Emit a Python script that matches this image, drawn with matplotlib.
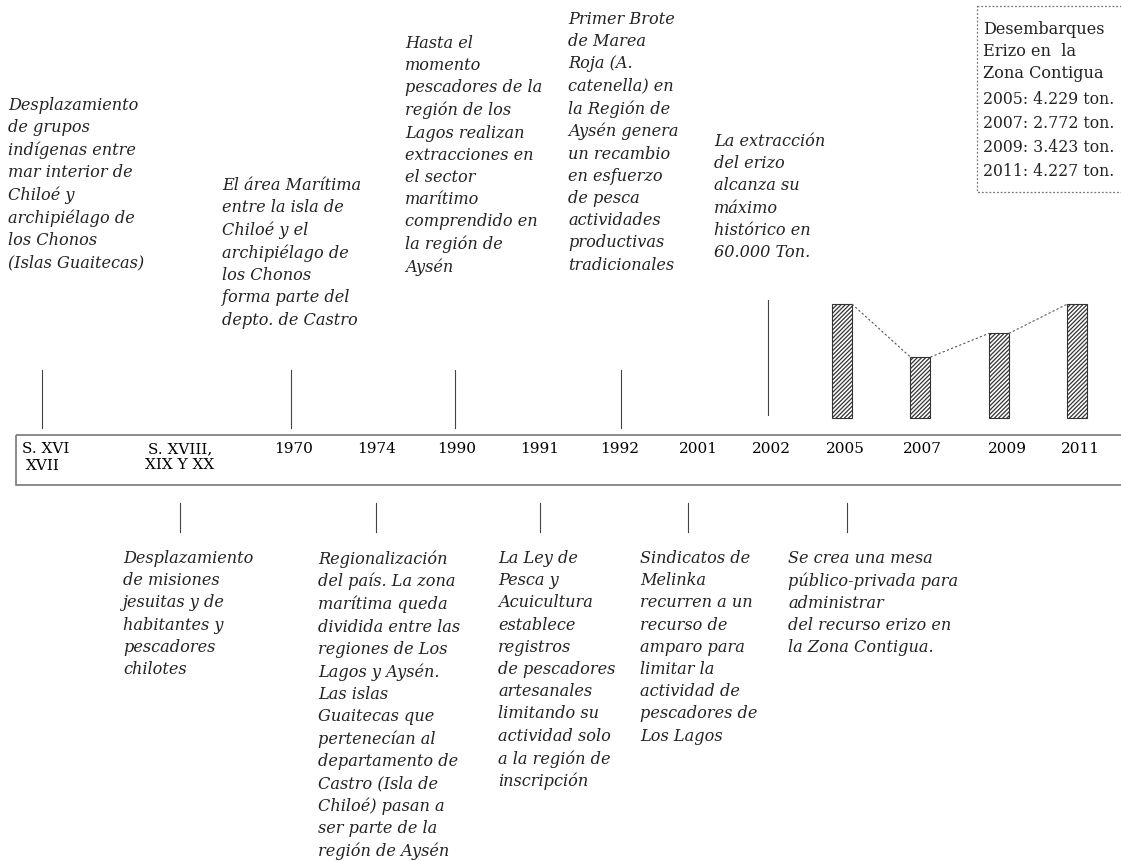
import matplotlib
matplotlib.use("Agg")
import matplotlib.pyplot as plt
from matplotlib.patches import Rectangle

# ---------------- data ----------------
timeline_labels = ["S. XVI\nXVII", "S. XVIII,\nXIX Y XX", "1970", "1974", "1990", "1991",
                   "1992", "2001", "2002", "2005", "2007", "2009", "2011"]
bar_years = [2005, 2007, 2009, 2011]
bar_values = [4229, 2772, 3423, 4227]   # toneladas

events_above = [
    "Desplazamiento\nde grupos\nindígenas entre\nmar interior de\nChiloé y\narchipiélago de\nlos Chonos\n(Islas Guaitecas)",
    "El área Marítima\nentre la isla de\nChiloé y el\narchipiélago de\nlos Chonos\nforma parte del\ndepto. de Castro",
    "Hasta el\nmomento\npescadores de la\nregión de los\nLagos realizan\nextracciones en\nel sector\nmarítimo\ncomprendido en\nla región de\nAysén",
    "Primer Brote\nde Marea\nRoja (A.\ncatenella) en\nla Región de\nAysén genera\nun recambio\nen esfuerzo\nde pesca\nactividades\nproductivas\ntradicionales",
    "La extracción\ndel erizo\nalcanza su\nmáximo\nhistórico en\n60.000 Ton.",
]
events_below = [
    "Desplazamiento\nde misiones\njesuitas y de\nhabitantes y\npescadores\nchilotes",
    "Regionalización\ndel país. La zona\nmarítima queda\ndividida entre las\nregiones de Los\nLagos y Aysén.\nLas islas\nGuaitecas que\npertenecían al\ndepartamento de\nCastro (Isla de\nChiloé) pasan a\nser parte de la\nregión de Aysén",
    "La Ley de\nPesca y\nAcuicultura\nestablece\nregistros\nde pescadores\nartesanales\nlimitando su\nactividad solo\na la región de\ninscripción",
    "Sindicatos de\nMelinka\nrecurren a un\nrecurso de\namparo para\nlimitar la\nactividad de\npescadores de\nLos Lagos",
    "Se crea una mesa\npúblico-privada para\nadministrar\ndel recurso erizo en\nla Zona Contigua.",
]
legend_title = ["Desembarques", "Erizo en  la", "Zona Contigua"]

# ---------------- layout (pixels) ----------------
W, H = 1121, 861
label_x = [43, 180, 294, 377, 457, 540, 620, 698, 771, 845, 922, 1007, 1080]
above_text_xy = [(8, 97), (222, 177), (405, 35), (568, 11), (714, 133)]
above_line = [(42, 370, 428), (291, 370, 428), (455, 370, 428), (621, 370, 428), (768, 300, 415)]
below_text_xy = [(123, 550), (318, 550), (498, 550), (640, 550), (788, 550)]
below_line_x = [180, 376, 540, 688, 847]

fig = plt.figure(figsize=(W / 100, H / 100), dpi=100)
ax = fig.add_axes([0, 0, 1, 1])
ax.set_xlim(0, W)
ax.set_ylim(H, 0)
ax.axis("off")

serif = "DejaVu Serif"
ital = dict(family=serif, style="italic", fontsize=11.6, color="#222222",
            va="top", ha="left", linespacing=1.40)

# timeline box
ax.add_patch(Rectangle((16, 435), 1200, 50, fill=False, edgecolor="#777777", lw=1.2))
for x, lab in zip(label_x, timeline_labels):
    if lab.startswith("S. XVI\n"):
        ax.text(22, 449, "S. XVI", family=serif, fontsize=11, ha="left", va="center")
        ax.text(x, 466, "XVII", family=serif, fontsize=11, ha="center", va="center")
    else:
        ax.text(x, 457 if "\n" in lab else 449, lab, family=serif, fontsize=11,
                ha="center", va="center", linespacing=1.2)

for (x, y), t in zip(above_text_xy, events_above):
    ax.text(x, y, t, **ital)
for (x, y0, y1) in above_line:
    ax.plot([x, x], [y0, y1], color="#444444", lw=0.8)
for (x, y), t in zip(below_text_xy, events_below):
    ax.text(x, y, t, **ital)
for x in below_line_x:
    ax.plot([x, x], [503, 532], color="#444444", lw=0.8)

# legend box
ax.add_patch(Rectangle((977, 6), 150, 186, fill=False, edgecolor="#777777",
                       lw=0.9, linestyle=(0, (1.5, 1.5))))
for i, t in enumerate(legend_title):
    ax.text(983, 29 + i * 22.5, t, family=serif, fontsize=11.6, ha="left", va="center", color="#222222")
for i, (yr, v) in enumerate(zip(bar_years, bar_values)):
    s = f"{yr}: {v:,}".replace(",", ".") + " ton."
    ax.text(983, 100 + i * 24, s, family=serif, fontsize=11.3, ha="left", va="center", color="#222222")

# bars (inset axes)
top_px, bot_px = 290, 440
left_px, right_px = 800, 1121
bax = fig.add_axes([left_px / W, (H - bot_px) / H, (right_px - left_px) / W, (bot_px - top_px) / H])
bax.axis("off")
px_per_year = 39.2
x0 = 2005 - (842 - left_px) / px_per_year
bax.set_xlim(x0, x0 + (right_px - left_px) / px_per_year)
ton_per_px = 1 / 0.0364
bax.set_ylim((458 - bot_px) * ton_per_px, (458 - top_px) * ton_per_px)
BASE = 1100
bw = 20 / px_per_year
plt.rcParams["hatch.linewidth"] = 0.9
bax.bar(bar_years, [v - BASE for v in bar_values], bottom=BASE, width=bw,
        facecolor="white", edgecolor="#333333", hatch="////////", lw=0.8)
for i in range(len(bar_years) - 1):
    bax.plot([bar_years[i] + bw / 2, bar_years[i + 1] - bw / 2],
             [bar_values[i], bar_values[i + 1]], color="#555555", lw=0.8,
             linestyle=(0, (2, 2)))

fig.savefig("out.png", dpi=100)
